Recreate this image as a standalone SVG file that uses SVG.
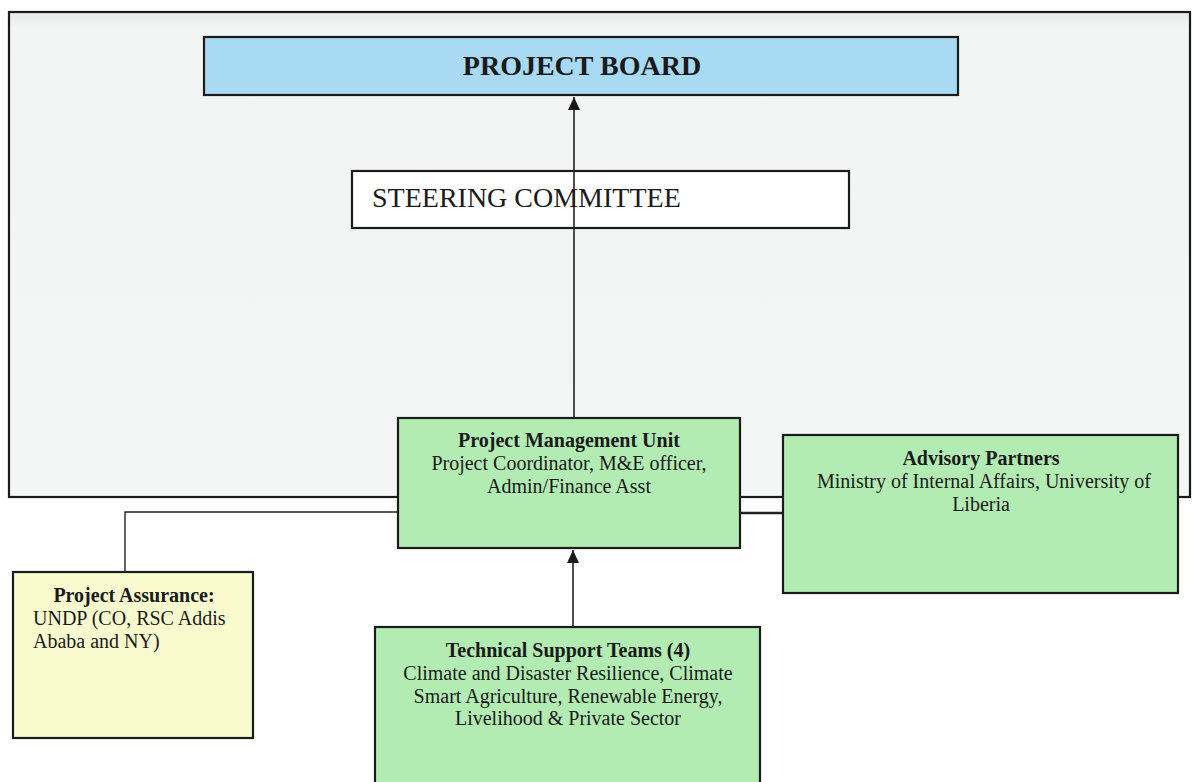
<svg xmlns="http://www.w3.org/2000/svg" width="1192" height="782" viewBox="0 0 1192 782">
<style>
.box{stroke:#1b1b1b;stroke-width:2.2}
.t{font-family:"Liberation Serif","Times New Roman",serif;fill:#1a1a1a}
.b{font-weight:bold}
.c{text-anchor:middle}
.ln{stroke:#222;fill:none}
</style>
<defs>
<marker id="ah" markerWidth="13" markerHeight="12" refX="13" refY="6" orient="auto" markerUnits="userSpaceOnUse" viewBox="0 0 13 12">
<path d="M13 6 L0 0 L0 12 Z" fill="#1a1a1a"/>
</marker>
<linearGradient id="bg" x1="0" y1="0" x2="0" y2="1">
<stop offset="0" stop-color="#e6e7e7"/>
<stop offset="0.03" stop-color="#f3f4f4"/>
<stop offset="1" stop-color="#f4f5f5"/>
</linearGradient>
</defs>
<rect width="1192" height="782" fill="#ffffff"/>
<g id="frame">
<rect x="9" y="12" width="1181" height="485" fill="url(#bg)" stroke="#1b1b1b" stroke-width="2.2"/>
</g>
<g id="project-board">
<rect class="box" x="204" y="37" width="754" height="58" fill="#a8dbf3"/>
<text class="t b c" x="582" y="75" font-size="28">PROJECT BOARD</text>
</g>
<g id="steering-committee">
<rect class="box" x="352" y="171" width="497" height="57" fill="#ffffff"/>
<text class="t" x="372" y="207" font-size="28">STEERING COMMITTEE</text>
</g>
<g id="connectors">
<line class="ln" x1="574" y1="418" x2="574" y2="97" stroke-width="1.6" marker-end="url(#ah)"/>
<line class="ln" x1="573" y1="627" x2="573" y2="550" stroke-width="1.6" marker-end="url(#ah)"/>
<polyline class="ln" points="398,512 125,512 125,572" stroke-width="1.4"/>
<line class="ln" x1="740" y1="513" x2="783" y2="513" stroke-width="2.4"/>
</g>
<g id="pmu">
<rect class="box" x="398" y="418" width="342" height="130" fill="#b2ecb3"/>
<text class="t b c" x="569" y="447" font-size="20">Project Management Unit</text>
<text class="t c" x="569" y="470" font-size="20">Project Coordinator, M&amp;E officer,</text>
<text class="t c" x="569" y="493" font-size="20">Admin/Finance Asst</text>
</g>
<g id="advisory-partners">
<rect class="box" x="783" y="435" width="395" height="158" fill="#b2ecb3"/>
<text class="t b c" x="981" y="465" font-size="20">Advisory Partners</text>
<text class="t c" x="984" y="488" font-size="20">Ministry of Internal Affairs, University of</text>
<text class="t c" x="981" y="511" font-size="20">Liberia</text>
</g>
<g id="project-assurance">
<rect class="box" x="13" y="572" width="240" height="166" fill="#f9fbcf"/>
<text class="t b c" x="134" y="602" font-size="20">Project Assurance:</text>
<text class="t" x="33" y="625" font-size="20">UNDP (CO, RSC Addis</text>
<text class="t" x="33" y="648" font-size="20">Ababa and NY)</text>
</g>
<g id="technical-support-teams">
<rect class="box" x="375" y="627" width="385" height="170" fill="#b2ecb3"/>
<text class="t b c" x="568" y="657" font-size="20">Technical Support Teams (4)</text>
<text class="t c" x="568" y="680" font-size="20">Climate and Disaster Resilience, Climate</text>
<text class="t c" x="568" y="703" font-size="20">Smart Agriculture, Renewable Energy,</text>
<text class="t c" x="568" y="725" font-size="20">Livelihood &amp; Private Sector</text>
</g>
</svg>
